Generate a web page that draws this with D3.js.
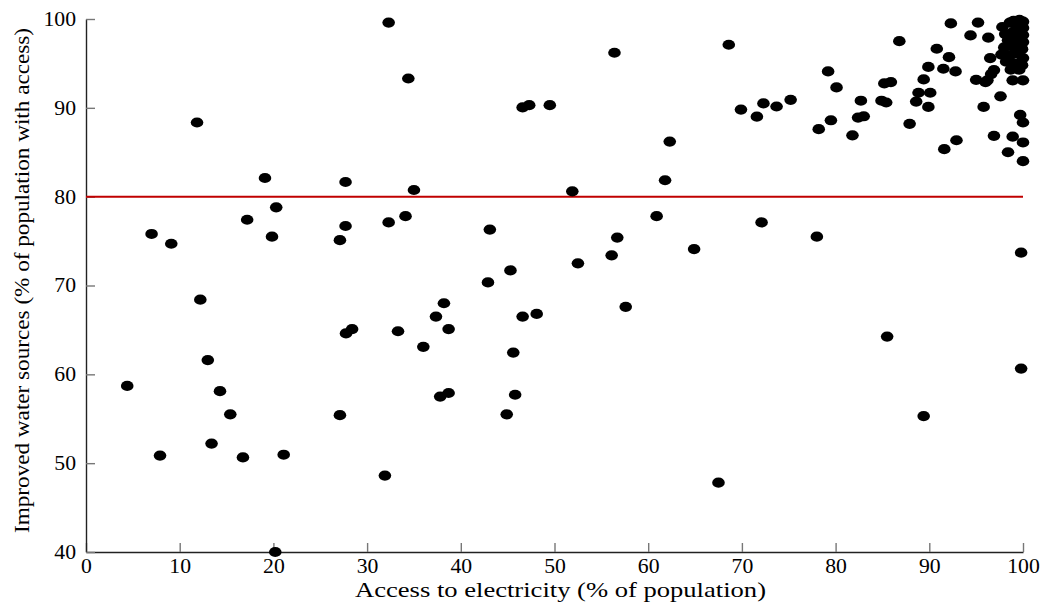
<!DOCTYPE html>
<html>
<head>
<meta charset="utf-8">
<script src="https://cdn.jsdelivr.net/npm/d3@7"></script>
<style>
    html, body { margin: 0; padding: 0; background: #fff; }
    svg text { font-family: "Liberation Serif", "Times New Roman", serif; fill: #000; }
</style>
</head>
<body>
<div id="chart"></div>
<script>
// Access to electricity (% of population)
const electricity = [
    4.4, 7.0, 7.9, 9.1, 11.85, 12.2, 13.0, 13.4, 14.3, 15.4,
    16.75, 17.2, 19.1, 19.85, 20.2, 20.3, 21.1, 27.1, 27.1, 27.7,
    27.7, 27.75, 28.4, 31.9, 32.3, 32.3, 33.3, 34.1, 34.4, 35.0,
    36.0, 37.35, 37.8, 38.2, 38.7, 38.7, 42.9, 43.1, 44.9, 45.3,
    45.6, 45.8, 46.6, 46.6, 47.3, 48.1, 49.5, 51.9, 52.5, 56.1,
    56.4, 56.7, 57.6, 60.9, 61.8, 62.3, 64.9, 67.5, 68.6, 69.9,
    71.6, 72.1, 72.3, 73.7, 75.2, 78.0, 78.2, 79.2, 79.5, 80.1,
    81.8, 82.4, 83.0, 82.7, 84.9, 85.4, 85.2, 85.9, 85.5, 86.8,
    87.9, 88.6, 88.85, 89.4, 89.9, 89.9, 90.1, 89.4, 90.8, 91.5,
    91.6, 92.1, 92.8, 92.9, 92.3, 94.4, 95.2, 95.0, 95.8, 96.3,
    96.5, 96.9, 96.2, 96.9, 97.6, 97.8, 98.4, 98.9, 98.9, 99.7,
    100, 100, 100, 99.8, 99.8, 100, 96.6, 96.0,
    // groupe dense près de 100 %
    99.0, 99.6, 100, 99.3, 100, 98.9, 99.7, 100, 98.4, 99.2,
    100, 98.0, 98.9, 99.8, 97.7, 98.6, 99.5, 100, 98.2, 99.1,
    99.9, 98.7, 99.6, 99.9, 98.1, 98.6
];

// Improved water sources (% of population with access)
const water = [
    58.7, 75.8, 50.85, 74.7, 88.35, 68.4, 61.6, 52.2, 58.1, 55.5,
    50.65, 77.4, 82.1, 75.5, 40.0, 78.8, 50.95, 75.1, 55.4, 81.65,
    76.7, 64.6, 65.1, 48.6, 99.6, 77.1, 64.85, 77.8, 93.3, 80.75,
    63.1, 66.5, 57.5, 68.0, 65.1, 57.9, 70.35, 76.3, 55.5, 71.7,
    62.45, 57.7, 66.5, 90.05, 90.3, 66.8, 90.3, 80.6, 72.5, 73.4,
    96.2, 75.4, 67.6, 77.8, 81.85, 86.2, 74.1, 47.8, 97.1, 89.8,
    89.0, 77.1, 90.5, 90.15, 90.9, 75.5, 87.6, 94.1, 88.6, 92.3,
    86.9, 88.9, 89.05, 90.8, 90.8, 90.6, 92.75, 92.9, 64.25, 97.5,
    88.2, 90.7, 91.7, 93.2, 94.6, 90.1, 91.7, 55.3, 96.65, 94.4,
    85.35, 95.7, 94.1, 86.35, 99.5, 98.15, 99.6, 93.15, 90.1, 97.9,
    95.6, 94.25, 93.1, 86.85, 91.3, 99.1, 85.0, 86.75, 93.1, 89.2,
    88.35, 86.1, 84.0, 73.7, 60.65, 93.1, 93.8, 92.9,
    // groupe dense près de 100 %
    99.8, 99.9, 99.7, 99.2, 99.0, 98.5, 98.6, 98.2, 97.6, 97.8,
    97.4, 96.8, 96.9, 96.8, 96.0, 95.9, 96.1, 95.6, 95.2, 95.0,
    94.8, 94.3, 94.3, 96.6, 98.3, 99.6
];

const xTicks = [0, 10, 20, 30, 40, 50, 60, 70, 80, 90, 100];
const yTicks = [40, 50, 60, 70, 80, 90, 100];
const threshold = 80;

const CONFIG = {
    width: 1045,
    height: 611,
    margin: { top: 19, right: 22, bottom: 59, left: 86 }
};

const svg = d3.select("#chart").append("svg")
    .attr("width", CONFIG.width)
    .attr("height", CONFIG.height);

const x = d3.scaleLinear().domain([0, 100])
    .range([CONFIG.margin.left, CONFIG.width - CONFIG.margin.right]);
const y = d3.scaleLinear().domain([40, 100])
    .range([CONFIG.height - CONFIG.margin.bottom, CONFIG.margin.top]);

const tickFont = 20;
const digitWidth = 10.85; // police un peu élargie comme l'original

function styleTickText(sel) {
    sel.attr("font-size", tickFont)
        .attr("fill", "#000")
        .attr("lengthAdjust", "spacingAndGlyphs")
        .attr("textLength", function() { return this.textContent.length * digitWidth; });
}

// Axe X (ticks tournés vers l'intérieur)
const xAxis = svg.append("g")
    .attr("transform", `translate(0,${y(40)})`)
    .call(d3.axisBottom(x).tickValues(xTicks).tickSize(-9).tickPadding(7).tickSizeOuter(0));
xAxis.select(".domain").attr("stroke", "#222").attr("stroke-width", 1.4);
xAxis.selectAll(".tick line").attr("stroke", "#777").attr("stroke-width", 1.4);
xAxis.selectAll(".tick text").call(styleTickText);

// Axe Y
const yAxis = svg.append("g")
    .attr("transform", `translate(${x(0)},0)`)
    .call(d3.axisLeft(y).tickValues(yTicks).tickSize(-9).tickPadding(10).tickSizeOuter(0));
yAxis.select(".domain").attr("stroke", "#222").attr("stroke-width", 1.4);
yAxis.selectAll(".tick line").attr("stroke", "#777").attr("stroke-width", 1.4);
yAxis.selectAll(".tick text").call(styleTickText);

// Ligne de seuil
svg.append("line")
    .attr("x1", x(0)).attr("x2", x(100))
    .attr("y1", y(threshold)).attr("y2", y(threshold))
    .attr("stroke", "#c00000")
    .attr("stroke-width", 2);

// Points
const points = electricity.map((e, i) => ({ e: e, w: water[i] }));
svg.append("g").selectAll("ellipse")
    .data(points)
    .enter()
    .append("ellipse")
    .attr("cx", d => x(d.e))
    .attr("cy", d => y(d.w))
    .attr("rx", 6.3)
    .attr("ry", 5.1)
    .attr("fill", "#000");

// Titres des axes
svg.append("text")
    .attr("x", 560.5)
    .attr("y", 597)
    .attr("text-anchor", "middle")
    .attr("font-size", 22)
    .attr("lengthAdjust", "spacingAndGlyphs")
    .attr("textLength", 411)
    .text("Access to electricity (% of population)");

svg.append("text")
    .attr("transform", "translate(29,280.5) rotate(-90)")
    .attr("text-anchor", "middle")
    .attr("font-size", 22)
    .attr("lengthAdjust", "spacingAndGlyphs")
    .attr("textLength", 505)
    .text("Improved water sources (% of population with access)");
</script>
</body>
</html>
